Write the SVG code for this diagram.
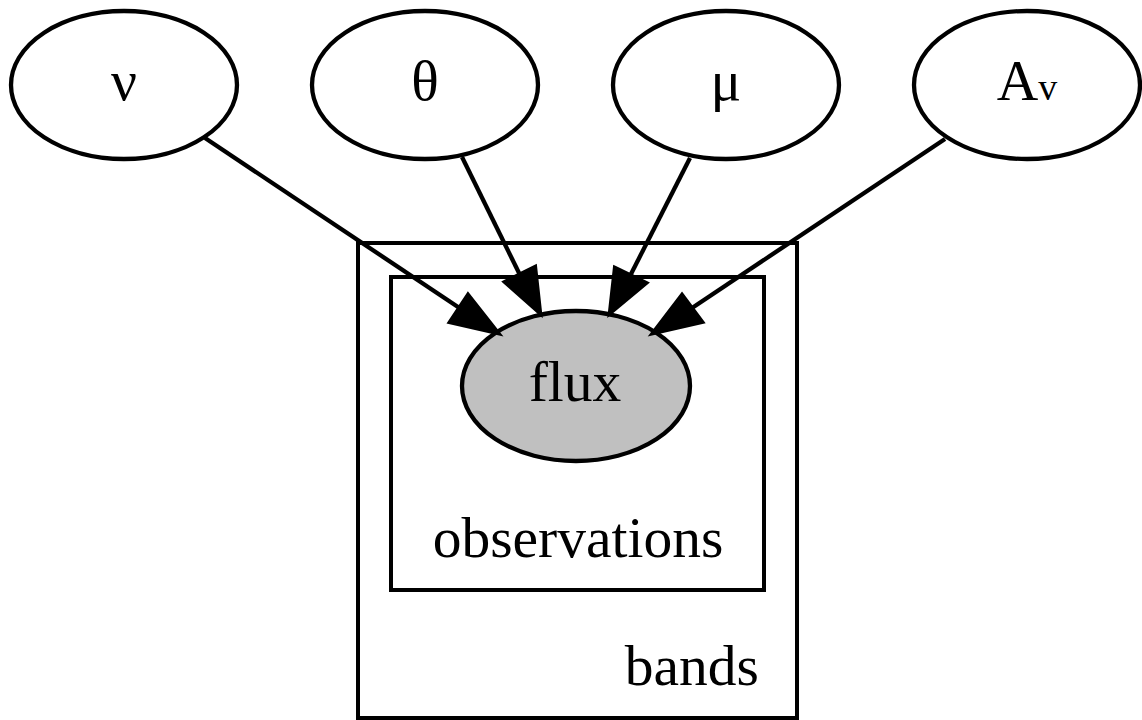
<svg xmlns="http://www.w3.org/2000/svg" width="1142" height="720" viewBox="0 0 1142 720">
  <style>
    .node { fill: #ffffff; stroke: #000000; stroke-width: 4.3; }
    .observed { fill: #c0c0c0; stroke: #000000; stroke-width: 4.3; }
    .plate { fill: none; stroke: #000000; stroke-width: 4; }
    .edge { fill: none; stroke: #000000; stroke-width: 4.3; }
    .head { fill: #000000; stroke: #000000; stroke-width: 4.3; stroke-linejoin: miter; }
    text { font-family: "Liberation Serif", "Times New Roman", serif; font-size: 57.5px; fill: #000000; }
    .mid { text-anchor: middle; }
  </style>
  <rect width="1142" height="720" fill="#ffffff"/>

  <!-- plates -->
  <g id="plate-bands">
    <rect class="plate" x="358" y="243" width="439" height="475"/>
    <text x="759" y="685" text-anchor="end">bands</text>
  </g>
  <g id="plate-observations">
    <rect class="plate" x="391" y="277" width="373" height="313"/>
    <text class="mid" x="578" y="557">observations</text>
  </g>

  <!-- parameter nodes -->
  <g id="node-nu">
    <ellipse class="node" cx="124" cy="85" rx="113" ry="74"/>
    <text class="mid" x="124" y="100">ν</text>
  </g>
  <g id="node-theta">
    <ellipse class="node" cx="425" cy="85" rx="113" ry="74"/>
    <text class="mid" x="425" y="100">θ</text>
  </g>
  <g id="node-mu">
    <ellipse class="node" cx="726" cy="85" rx="113" ry="74"/>
    <text class="mid" x="726" y="100">μ</text>
  </g>
  <g id="node-av">
    <ellipse class="node" cx="1027" cy="85" rx="113" ry="74"/>
    <text class="mid" x="1027" y="100">A<tspan font-size="38">v</tspan></text>
  </g>

  <!-- observed node -->
  <g id="node-flux">
    <ellipse class="observed" cx="576" cy="386" rx="114" ry="75"/>
    <text class="mid" x="575" y="401">flux</text>
  </g>

  <!-- connectors -->
  <g id="edges">
    <line class="edge" x1="205" y1="138" x2="461" y2="309"/>
    <polygon class="head" points="468,295 450,322 498,333"/>

    <line class="edge" x1="462" y1="157" x2="520" y2="275"/>
    <polygon class="head" points="505,282 535,267 540,313"/>

    <line class="edge" x1="690" y1="158" x2="630" y2="276"/>
    <polygon class="head" points="615,268 646,283 610,313"/>

    <line class="edge" x1="945" y1="139" x2="692" y2="308"/>
    <polygon class="head" points="682,295 702,322 653,333"/>
  </g>
</svg>
